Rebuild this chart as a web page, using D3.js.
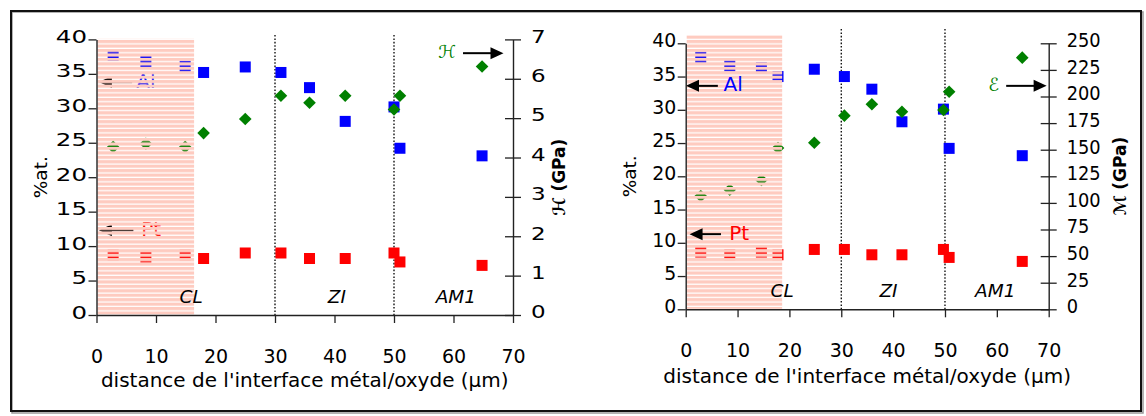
<!DOCTYPE html>
<html><head><meta charset="utf-8">
<script src="https://cdn.jsdelivr.net/npm/d3@7"></script>
<style>body{margin:0;background:#fff} svg{display:block}</style>
</head><body>
<svg id="chart" width="1146" height="416"></svg>
<script>
// ---------- data ----------
const distLeft     = [2.8, 8.3, 14.9, 18, 25, 31, 35.8, 41.8, 50, 51, 64.8];
const alLeft       = [37.7, 36.8, 36.1, 35.2, 36.0, 35.2, 33.0, 28.1, 30.2, 24.2, 23.1];
const ptLeft       = [8.7, 8.4, 8.7, 8.2, 9.0, 9.0, 8.2, 8.2, 9.0, 7.7, 7.2];
const hardnessLeft = [4.27, 4.35, 4.27, 4.62, 4.98, 5.57, 5.39, 5.57, 5.22, 5.57, 6.31];

const distRight    = [2.9, 8.5, 14.6, 17.8, 24.8, 30.6, 35.9, 41.7, 49.7, 50.8, 64.9];
const alRight      = [37.9, 36.6, 36.3, 35.0, 36.1, 35.0, 33.1, 28.2, 30.1, 24.2, 23.1];
const ptRight      = [8.6, 8.2, 8.6, 8.2, 9.0, 9.0, 8.2, 8.2, 9.0, 7.8, 7.2];
const modulusRight = [106.5, 112.4, 121.5, 151.6, 156.6, 182, 192.7, 185.7, 187.3, 204.5, 236.5];

const xTicks  = [0, 10, 20, 30, 40, 50, 60, 70];
const atTicks = [0, 5, 10, 15, 20, 25, 30, 35, 40];
const hTicks  = [0, 1, 2, 3, 4, 5, 6, 7];
const eTicks  = [0, 25, 50, 75, 100, 125, 150, 175, 200, 225, 250];

const zoneBounds = [30, 50];
const zoneNames  = ["CL", "ZI", "AM1"];
const zoneLabelXLeft  = [15.9, 40.4, 60.4];
const zoneLabelXRight = [18.6, 39.1, 59.7];
const hatchEnd = [16.4, 18.6];

const xTitle = "distance de l'interface métal/oxyde (µm)";
const yTitle = "%at.";

const FONT = "DejaVu Sans";
const BLUE = "#0000ff", RED = "#ff0000", GREEN = "#008000";

const svg = d3.select("#chart");

// outer frame
svg.append("rect").attr("x", 12).attr("y", 12).attr("width", 1131).attr("height", 401)
  .attr("fill", "none").attr("stroke", "#999").attr("stroke-width", 1.5);
svg.append("rect").attr("x", 11).attr("y", 11).attr("width", 1130).attr("height", 400)
  .attr("fill", "none").attr("stroke", "#111").attr("stroke-width", 2);

const defs = svg.append("defs");
const pat = defs.append("pattern").attr("id", "hatch").attr("patternUnits", "userSpaceOnUse")
  .attr("width", 10).attr("height", 4.45);
pat.append("rect").attr("width", 10).attr("height", 3.2).attr("fill", "#fecbc0");

function drawChart(c) {
  const x = d3.scaleLinear().domain([0, 70]).range([c.x0, c.x1]);
  const y = d3.scaleLinear().domain([0, 40]).range([c.yBottom, c.yTop]);
  const y2 = d3.scaleLinear().domain([0, c.rightMax]).range([c.yBottom, c.yTop]);
  const g = svg.append("g");

  // dotted zone boundaries
  g.selectAll(".zb").data(zoneBounds).join("line")
    .attr("x1", d => x(d)).attr("x2", d => x(d))
    .attr("y1", c.dotTop).attr("y2", c.yBottom)
    .attr("stroke", "#000").attr("stroke-width", 1.3).attr("stroke-dasharray", "1.6,1.8");

  const pts = c.dist.map((d, i) => ({d, al: c.al[i], pt: c.pt[i], r: c.rightVals[i]}));
  const sq = 11;
  const marks = g.append("g");
  marks.selectAll(".al").data(pts).join("rect")
    .attr("x", p => x(p.d) - sq / 2).attr("y", p => y(p.al) - sq / 2)
    .attr("width", sq).attr("height", sq).attr("fill", BLUE);
  marks.selectAll(".pt").data(pts).join("rect")
    .attr("x", p => x(p.d) - sq / 2).attr("y", p => y(p.pt) - sq / 2)
    .attr("width", sq).attr("height", sq).attr("fill", RED);
  const dm = 6.3;
  marks.selectAll(".rv").data(pts).join("path")
    .attr("d", p => {
      const cx = x(p.d), cy = y2(p.r);
      return `M${cx},${cy - dm}L${cx + dm},${cy}L${cx},${cy + dm}L${cx - dm},${cy}Z`;
    })
    .attr("fill", GREEN);

  function arrow(parent, x1, x2, yy) {
    const dir = x2 > x1 ? 1 : -1;
    const hl = 13, hh = 6;
    parent.append("line").attr("x1", x1).attr("x2", x2 - dir * hl + dir).attr("y1", yy).attr("y2", yy)
      .attr("stroke", "#000").attr("stroke-width", 2);
    parent.append("path")
      .attr("d", `M${x2},${yy}L${x2 - dir * hl},${yy - hh}L${x2 - dir * hl},${yy + hh}Z`)
      .attr("fill", "#000");
  }

  function drawLegends(parent) {
    c.legends.forEach(l => {
      const yy = y(l.y);
      arrow(parent, x(l.tail), x(l.tip), yy);
      parent.append("text").attr("x", x(l.textX)).attr("y", yy + 5.5)
        .attr("font-family", FONT).attr("font-size", 20).attr("fill", l.color).text(l.label);
    });
  }

  const legendG = g.append("g");
  if (c.legendBehind) drawLegends(legendG);

  // hatched CL region
  g.append("rect")
    .attr("x", x(0) + 1).attr("width", x(c.hatchEnd) - x(0) - 1)
    .attr("y", c.yTop - c.hatchAbove).attr("height", c.yBottom - c.yTop + c.hatchAbove - 0.5)
    .attr("fill", "url(#hatch)");

  if (!c.legendBehind) drawLegends(g.append("g"));

  // right-axis legend arrow
  const ry = y2(c.rLegend.y);
  arrow(g, x(c.rLegend.tail), x(c.rLegend.tip), ry);
  g.append("text").attr("x", x(c.rLegend.tail) - 7).attr("y", ry + 5).attr("text-anchor", "end")
    .attr("font-family", FONT).attr("font-style", "italic").attr("font-size", 18)
    .attr("fill", GREEN).text(c.rLegend.label);

  // zone labels
  g.selectAll(".zl").data(zoneNames).join("text")
    .attr("x", (d, i) => x(c.zoneLabelX[i])).attr("y", c.yBottom - 12.5)
    .attr("text-anchor", "middle").attr("font-family", FONT).attr("font-style", "italic")
    .attr("font-size", 18.5).attr("fill", "#000").text(d => d);

  function styleAxis(ag) {
    ag.attr("font-family", FONT);
    ag.select(".domain").attr("stroke", "#222").attr("stroke-width", 1.4);
    ag.selectAll(".tick line").attr("stroke", "#222").attr("stroke-width", 1.3);
    ag.selectAll(".tick text").attr("fill", "#000");
  }

  const fmt = d3.format("d");

  // left axis
  const ay = g.append("g").attr("transform", `translate(${c.x0},0)`)
    .call(d3.axisLeft(y).tickValues(atTicks).tickFormat(fmt).tickSize(8).tickSizeOuter(0));
  styleAxis(ay);
  ay.selectAll(".tick text").attr("x", 0).attr("y", 0).attr("dy", null)
    .attr("text-anchor", "end").attr("font-size", c.lFont)
    .attr("transform", `translate(-9.5,${-3.5 + 0.3645 * c.lFont}) scale(${c.lScale},1)`);

  // right axis
  const ar = g.append("g").attr("transform", `translate(${c.x1},0)`)
    .call(d3.axisRight(y2).tickValues(c.rightTicks).tickFormat(fmt).tickSize(8).tickSizeOuter(0));
  styleAxis(ar);
  ar.selectAll(".tick line").attr("x1", -8).attr("x2", 8);
  ar.selectAll(".tick text").attr("x", 0).attr("y", 0).attr("dy", null)
    .attr("text-anchor", "start").attr("font-size", c.rFont)
    .attr("transform", `translate(18,${-3.8 + 0.3645 * c.rFont}) scale(${c.rScale},1)`);

  // bottom axis
  const ax = g.append("g").attr("transform", `translate(0,${c.yBottom})`)
    .call(d3.axisBottom(x).tickValues(xTicks).tickFormat(fmt).tickSize(8).tickSizeOuter(0));
  styleAxis(ax);
  ax.selectAll(".tick text").attr("y", 48).attr("dy", null).attr("font-size", 19);

  // titles
  g.append("text").attr("x", (c.x0 + c.x1) / 2).attr("y", c.xTitleY)
    .attr("text-anchor", "middle").attr("font-family", FONT).attr("font-size", 20)
    .attr("fill", "#000").text(xTitle);
  g.append("text").attr("transform", `translate(${c.yTitleX},${(c.yTop + c.yBottom) / 2}) rotate(-90)`)
    .attr("dy", "0.36em").attr("text-anchor", "middle").attr("font-family", FONT)
    .attr("font-size", 18.5).attr("fill", "#000").text(yTitle);
  g.append("text").attr("transform", `translate(${c.rTitleX},${(c.yTop + c.yBottom) / 2}) rotate(-90)`)
    .attr("dy", "0.36em").attr("text-anchor", "middle").attr("font-family", FONT)
    .attr("font-weight", "bold").attr("font-size", 17).attr("fill", "#000").text(c.rTitle);
}

drawChart({
  x0: 96.5, x1: 513, yTop: 39.4, yBottom: 315,
  dist: distLeft, al: alLeft, pt: ptLeft, rightVals: hardnessLeft,
  rightMax: 7, rightTicks: hTicks, rTitle: "ℋ (GPa)",
  hatchEnd: hatchEnd[0], hatchAbove: 0.6, dotTop: 35,
  zoneLabelX: zoneLabelXLeft,
  legendBehind: true,
  legends: [
    {label: "Al", color: BLUE, y: 33.8, tip: 0.4, tail: 6.0, textX: 6.7},
    {label: "Pt", color: RED, y: 12.3, tip: 0.4, tail: 6.2, textX: 7.5}
  ],
  rLegend: {label: "ℋ", y: 6.65, tail: 61.6, tip: 68.4},
  lFont: 18, lScale: 1.36, rFont: 18, rScale: 1.28,
  xTitleY: 387, yTitleX: 40, rTitleX: 559
});

drawChart({
  x0: 685.7, x1: 1048.7, yTop: 43.3, yBottom: 309.3,
  dist: distRight, al: alRight, pt: ptRight, rightVals: modulusRight,
  rightMax: 250, rightTicks: eTicks, rTitle: "ℳ (GPa)",
  hatchEnd: hatchEnd[1], hatchAbove: 8.3, dotTop: 29,
  zoneLabelX: zoneLabelXRight,
  legendBehind: false,
  legends: [
    {label: "Al", color: BLUE, y: 33.6, tip: 0.06, tail: 6.2, textX: 7.3},
    {label: "Pt", color: RED, y: 11.3, tip: 0.75, tail: 6.8, textX: 8.4}
  ],
  rLegend: {label: "ℰ", y: 210, tail: 61.8, tip: 69.6},
  lFont: 19.5, lScale: 0.97, rFont: 20, rScale: 0.89,
  xTitleY: 383, yTitleX: 629, rTitleX: 1120
});
</script>
</body></html>
